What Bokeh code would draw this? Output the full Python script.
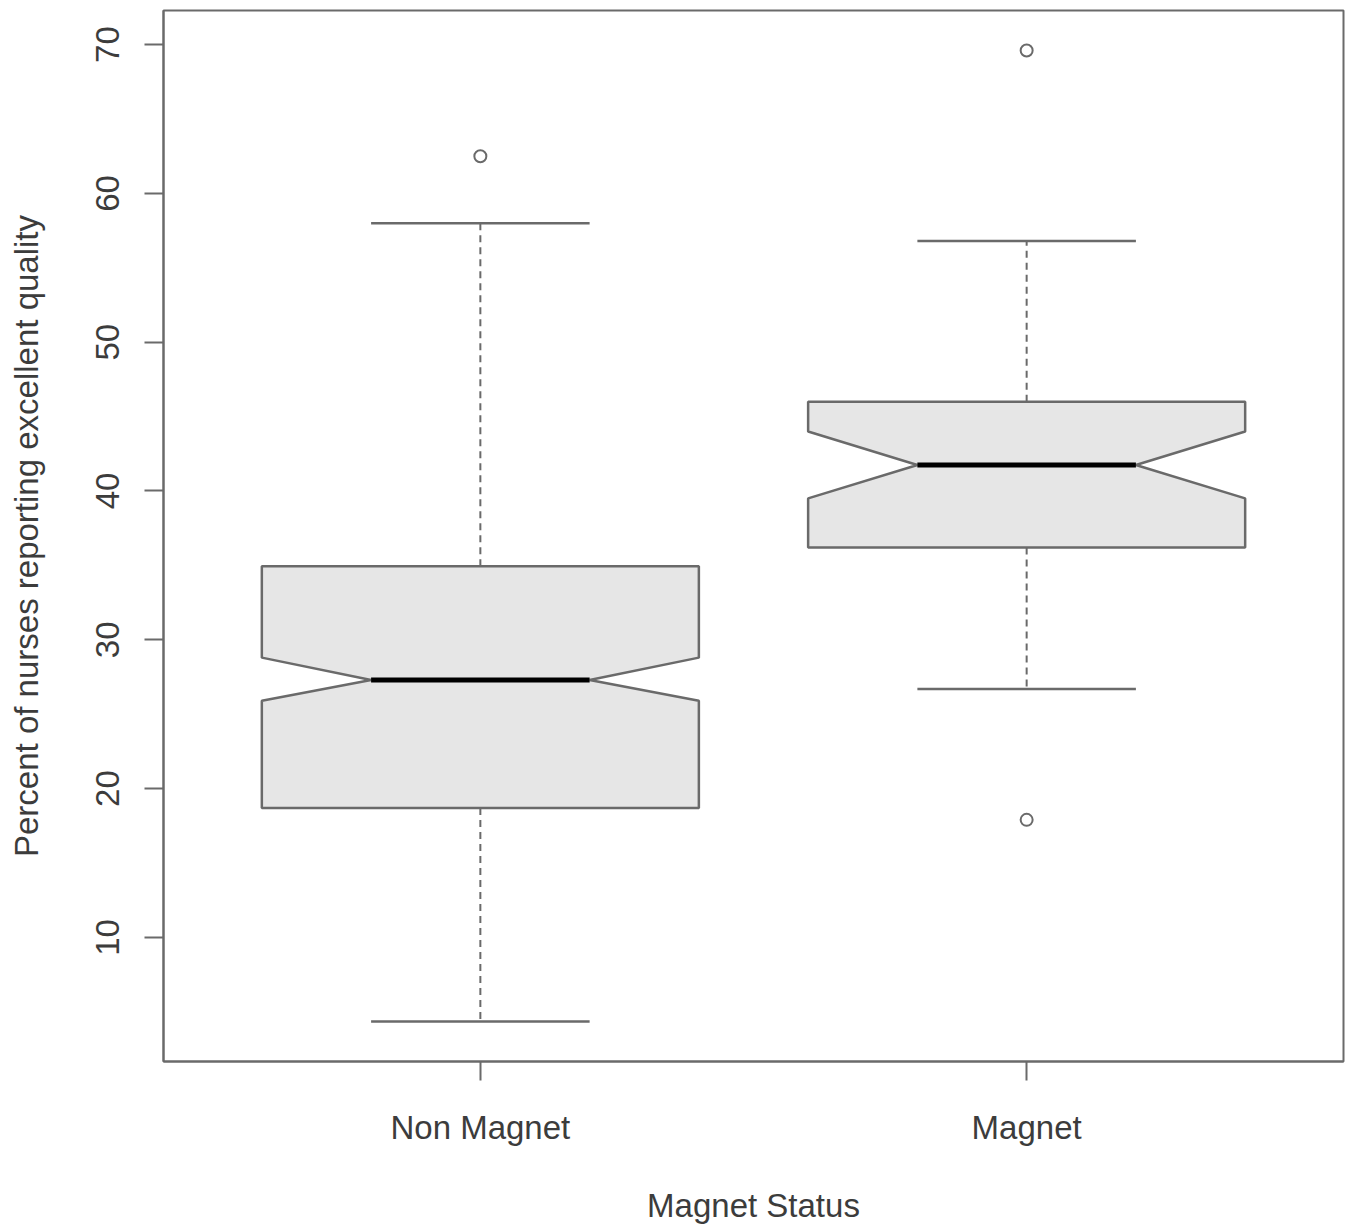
from bokeh.plotting import figure
from bokeh.models import FixedTicker, Range1d
from bokeh.embed import file_html
from bokeh.resources import INLINE

# ---- data ----
categories = ["Non Magnet", "Magnet"]
lower_whisker = [4.35, 26.7]
q1 = [18.7, 36.2]
median = [27.3, 41.75]
q3 = [34.95, 46.0]
upper_whisker = [58.0, 56.8]
notch_lo = [25.9, 39.5]
notch_hi = [28.8, 44.0]
outlier_group = [1, 2, 2]
outlier_value = [62.5, 69.6, 17.9]
y_ticks = [10, 20, 30, 40, 50, 60, 70]

# ---- style ----
BOX_W = 0.8
FONT = "Liberation Sans"
TXT = "#3c3c3c"
LINE = "#6a6a6a"

pos = [i + 1 for i in range(len(categories))]

p = figure(width=1348, height=1226, output_backend="svg", toolbar_location=None,
           x_range=Range1d(0.42, 2.58), y_range=Range1d(1.66, 72.29),
           min_border_left=163, min_border_right=5, min_border_top=10, min_border_bottom=160)
p.grid.visible = False
p.background_fill_color = "white"
p.border_fill_color = "white"
p.outline_line_color = LINE
p.outline_line_width = 2

# notched boxes
xs, ys = [], []
for x, a, b, m, nl, nh in zip(pos, q1, q3, median, notch_lo, notch_hi):
    l, r = x - BOX_W / 2, x + BOX_W / 2
    li, ri = x - BOX_W / 4, x + BOX_W / 4
    xs.append([l, l, li, l, l, r, r, ri, r, r])
    ys.append([a, nl, m, nh, b, b, nh, m, nl, a])

# whiskers (dashed)
p.segment(x0=pos, y0=q3, x1=pos, y1=upper_whisker, line_color=LINE, line_width=2, line_dash="7 5")
p.segment(x0=pos, y0=q1, x1=pos, y1=lower_whisker, line_color=LINE, line_width=2, line_dash="7 5")
# caps
cap_l = [x - BOX_W / 4 for x in pos]
cap_r = [x + BOX_W / 4 for x in pos]
p.segment(x0=cap_l, y0=upper_whisker, x1=cap_r, y1=upper_whisker, line_color=LINE, line_width=2.5)
p.segment(x0=cap_l, y0=lower_whisker, x1=cap_r, y1=lower_whisker, line_color=LINE, line_width=2.5)

p.patches(xs=xs, ys=ys, fill_color="#e6e6e6", line_color=LINE, line_width=2.5)
# medians
p.segment(x0=cap_l, y0=median, x1=cap_r, y1=median, line_color="black", line_width=5)
# outliers
p.scatter(x=outlier_group, y=outlier_value, marker="circle", size=12,
          fill_color=None, line_color=LINE, line_width=2)

# axes
p.xaxis.ticker = FixedTicker(ticks=pos)
p.xaxis.major_label_overrides = {x: c for x, c in zip(pos, categories)}
p.yaxis.ticker = FixedTicker(ticks=y_ticks)
p.yaxis.major_label_orientation = "vertical"
for ax in (p.xaxis[0], p.yaxis[0]):
    ax.axis_line_color = LINE
    ax.axis_line_width = 2
    ax.major_tick_line_color = LINE
    ax.major_tick_line_width = 2
    ax.major_tick_in = 0
    ax.major_tick_out = 19
    ax.minor_tick_line_color = None
    ax.major_label_text_font = FONT
    ax.major_label_text_font_size = "33px"
    ax.major_label_text_color = TXT
    ax.axis_label_text_font = FONT
    ax.axis_label_text_font_size = "33px"
    ax.axis_label_text_color = TXT
    ax.axis_label_text_font_style = "normal"
p.xaxis.axis_label = "Magnet Status"
p.yaxis.axis_label = "Percent of nurses reporting excellent quality"
p.xaxis.major_label_standoff = 28
p.xaxis.axis_label_standoff = 38
p.yaxis.major_label_standoff = 25
p.yaxis.axis_label_standoff = 49

open("out.html", "w").write(file_html(p, INLINE))
